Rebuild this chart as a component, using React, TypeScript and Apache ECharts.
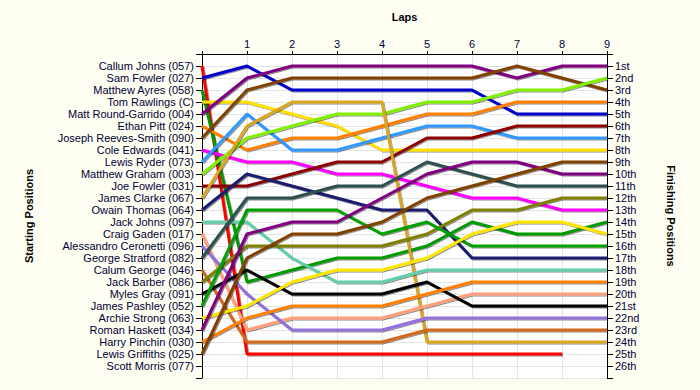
import React, { useEffect, useRef } from "react";
import * as echarts from "echarts";

const laps = [0, 1, 2, 3, 4, 5, 6, 7, 8, 9];

const startNames = [
  "Callum Johns (057)",
  "Sam Fowler (027)",
  "Matthew Ayres (058)",
  "Tom Rawlings (C)",
  "Matt Round-Garrido (004)",
  "Ethan Pitt (024)",
  "Joseph Reeves-Smith (090)",
  "Cole Edwards (041)",
  "Lewis Ryder (073)",
  "Matthew Graham (003)",
  "Joe Fowler (031)",
  "James Clarke (067)",
  "Owain Thomas (064)",
  "Jack Johns (097)",
  "Craig Gaden (017)",
  "Alessandro Ceronetti (096)",
  "George Stratford (082)",
  "Calum George (046)",
  "Jack Barber (086)",
  "Myles Gray (091)",
  "James Pashley (052)",
  "Archie Strong (063)",
  "Roman Haskett (034)",
  "Harry Pinchin (030)",
  "Lewis Griffiths (025)",
  "Scott Morris (077)",
];

const finishLabels = [
  "1st", "2nd", "3rd", "4th", "5th", "6th", "7th", "8th", "9th", "10th",
  "11th", "12th", "13th", "14th", "15th", "16th", "17th", "18th", "19th", "20th",
  "21st", "22nd", "23rd", "24th", "25th", "26th",
];

// positions per lap (lap 0 = starting position)
const callumJohns = [1, 25, 25, 25, 25, 25, 25, 25, 25];
const samFowler = [2, 1, 3, 3, 3, 3, 3, 5, 5, 5];
const matthewAyres = [3, 19, 18, 17, 17, 16, 14, 15, 15, 14];
const tomRawlings = [4, 4, 5, 6, 8, 8, 8, 8, 8, 8];
const mattRoundGarrido = [5, 2, 1, 1, 1, 1, 1, 2, 1, 1];
const ethanPitt = [6, 8, 7, 7, 6, 5, 5, 4, 4, 4];
const josephReevesSmith = [7, 3, 2, 2, 2, 2, 2, 1, 2, 3];
const coleEdwards = [8, 9, 9, 10, 10, 11, 12, 12, 13, 13];
const lewisRyder = [9, 5, 8, 8, 7, 6, 6, 7, 7, 7];
const matthewGraham = [10, 7, 6, 5, 5, 4, 4, 3, 3, 2];
const joeFowler = [11, 11, 10, 9, 9, 7, 7, 6, 6, 6];
const jamesClarke = [12, 6, 4, 4, 4, 24, 24, 24, 24, 24];
const owainThomas = [13, 10, 11, 12, 13, 13, 17, 17, 17, 17];
const jackJohns = [14, 14, 17, 19, 19, 18, 18, 18, 18, 18];
const craigGaden = [15, 23, 22, 22, 22, 21, 20, 20, 20, 20];
const alessandroCeronetti = [16, 20, 23, 23, 23, 22, 22, 22, 22, 22];
const georgeStratford = [17, 12, 12, 11, 11, 9, 10, 11, 11, 11];
const calumGeorge = [18, 24, 24, 24, 24, 23, 23, 23, 23, 23];
const jackBarber = [19, 16, 16, 16, 16, 15, 13, 13, 12, 12];
const mylesGray = [20, 18, 20, 20, 20, 19, 21, 21, 21, 21];
const jamesPashley = [21, 13, 13, 13, 15, 14, 16, 16, 16, 16];
const archieStrong = [22, 21, 19, 18, 18, 17, 15, 14, 14, 15];
const romanHaskett = [23, 15, 14, 14, 12, 10, 9, 9, 10, 10];
const harryPinchin = [24, 22, 21, 21, 21, 20, 19, 19, 19, 19];
const lewisGriffiths = [25, 17, 15, 15, 14, 12, 11, 10, 9, 9];

const riderPositions = [
  callumJohns, samFowler, matthewAyres, tomRawlings, mattRoundGarrido,
  ethanPitt, josephReevesSmith, coleEdwards, lewisRyder, matthewGraham,
  joeFowler, jamesClarke, owainThomas, jackJohns, craigGaden,
  alessandroCeronetti, georgeStratford, calumGeorge, jackBarber, mylesGray,
  jamesPashley, archieStrong, romanHaskett, harryPinchin, lewisGriffiths,
];

const riderColors = [
  "#FF0000", "#0000CC", "#009900", "#FFE000", "#800080",
  "#FF8000", "#804000", "#FF00FF", "#3399FF", "#80F000",
  "#8B0000", "#DAA520", "#1E1E6E", "#66CDAA", "#FFA07A",
  "#9370DB", "#2F4F4F", "#D2691E", "#808000", "#000000",
  "#00A000", "#FFE600", "#800080", "#FF8000", "#804000",
];

const FONT = 'Arial, "Liberation Sans", sans-serif';

export default function App() {
  const ref = useRef<HTMLDivElement>(null);
  useEffect(() => {
    const chart = echarts.init(ref.current!, null, { renderer: "svg" });
    const series = riderPositions.map((pos, i) => ({
      type: "line",
      name: startNames[i],
      symbol: "none",
      silent: true,
      xAxisIndex: 0,
      yAxisIndex: 0,
      data: pos.map((p, k) => [laps[k], p]),
      lineStyle: {
        width: 3,
        color: riderColors[i],
        shadowColor: "rgba(0,0,0,0.45)",
        shadowOffsetX: 1,
        shadowOffsetY: 1,
        shadowBlur: 1,
      },
    }));
    chart.setOption({
      animation: false,
      backgroundColor: "#FFFEF3",
      textStyle: { fontFamily: FONT },
      grid: {
        left: 202,
        right: 93,
        top: 54,
        bottom: 12,
        show: true,
        backgroundColor: "#FFFFFF",
        borderWidth: 0,
      },
      xAxis: {
        type: "value",
        position: "top",
        min: 0,
        max: 9,
        interval: 1,
        name: "Laps",
        nameLocation: "middle",
        nameGap: 32,
        nameTextStyle: { fontWeight: "bold", fontSize: 11, color: "#000000", fontFamily: FONT },
        axisLine: { show: true, onZero: false, lineStyle: { color: "#000000", width: 1 } },
        axisTick: { show: true, length: 3, lineStyle: { color: "#000000" } },
        axisLabel: {
          formatter: (v: number) => (v === 0 ? "" : String(v)),
          fontSize: 11,
          color: "#000033",
          margin: 5,
          fontFamily: FONT,
        },
        splitLine: { show: true, lineStyle: { color: "#E4E4E4", width: 1 } },
      },
      yAxis: [
        {
          type: "value",
          position: "left",
          inverse: true,
          min: 0,
          max: 27,
          interval: 1,
          name: "Starting Positions",
          nameLocation: "middle",
          nameRotate: 90,
          nameGap: 168,
          nameTextStyle: { fontWeight: "bold", fontSize: 11, color: "#000000", fontFamily: FONT },
          axisLine: { show: true, onZero: false, lineStyle: { color: "#000000", width: 1 } },
          axisTick: { show: true, length: 6, lineStyle: { color: "#000000" } },
          axisLabel: {
            formatter: (v: number) => startNames[v - 1] ?? "",
            fontSize: 11,
            color: "#000033",
            margin: 8,
            fontFamily: FONT,
          },
          splitLine: { show: true, lineStyle: { color: "#E4E4E4", width: 1 } },
        },
        {
          type: "value",
          position: "right",
          inverse: true,
          min: 0,
          max: 27,
          interval: 1,
          name: "Finishing Positions",
          nameLocation: "middle",
          nameRotate: -90,
          nameGap: 58,
          nameTextStyle: { fontWeight: "bold", fontSize: 11, color: "#000000", fontFamily: FONT },
          axisLine: { show: true, onZero: false, lineStyle: { color: "#000000", width: 1 } },
          axisTick: { show: true, length: 6, lineStyle: { color: "#000000" } },
          axisLabel: {
            formatter: (v: number) => finishLabels[v - 1] ?? "",
            fontSize: 11,
            color: "#000033",
            margin: 8,
            fontFamily: FONT,
          },
          splitLine: { show: false },
        },
      ],
      series,
    });
    return () => chart.dispose();
  }, []);
  return (
    <div
      ref={ref}
      style={{ position: "absolute", left: 0, top: 0, width: 700, height: 390 }}
    />
  );
}
